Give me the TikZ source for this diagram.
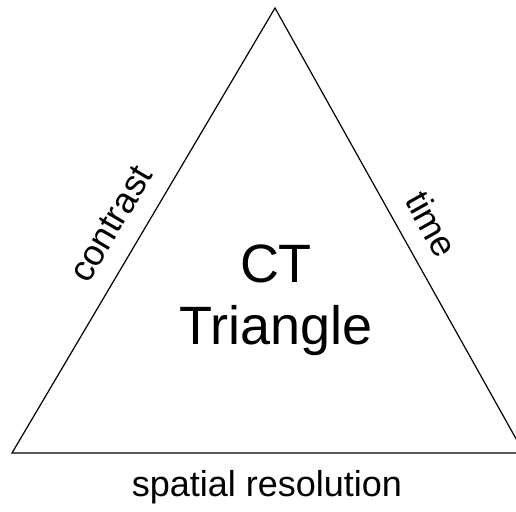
\documentclass[tikz,border=0pt]{standalone}
\usepackage{fontspec}
\setmainfont{Liberation Sans}
\begin{document}
\begin{tikzpicture}[x=1pt,y=-1pt,
  edge/.style={draw=black,line width=1.2pt,line join=miter},
  sidelabel/.style={font=\fontsize{36}{40}\selectfont,inner sep=0pt},
  title/.style={font=\fontsize{54}{62}\selectfont,align=center,inner sep=0pt}]
  \useasboundingbox (0,0) rectangle (516,511);
  \clip (0,0) rectangle (516,511);
  % corners of the triangle
  \coordinate (top) at (275,8);
  \coordinate (left) at (12,453);
  \coordinate (right) at (524,453);
  \draw[edge] (left) -- (top) -- (right) -- cycle;
  % labels
  \node[title] (ct) at (276,300) {CT\\Triangle};
  \node[sidelabel,rotate=59.4] (contrast) at (111,224) {contrast};
  \node[sidelabel,rotate=-60.8] (time) at (432,224) {time};
  \node[sidelabel] (spatial) at (267,487) {spatial resolution};
\end{tikzpicture}
\end{document}
